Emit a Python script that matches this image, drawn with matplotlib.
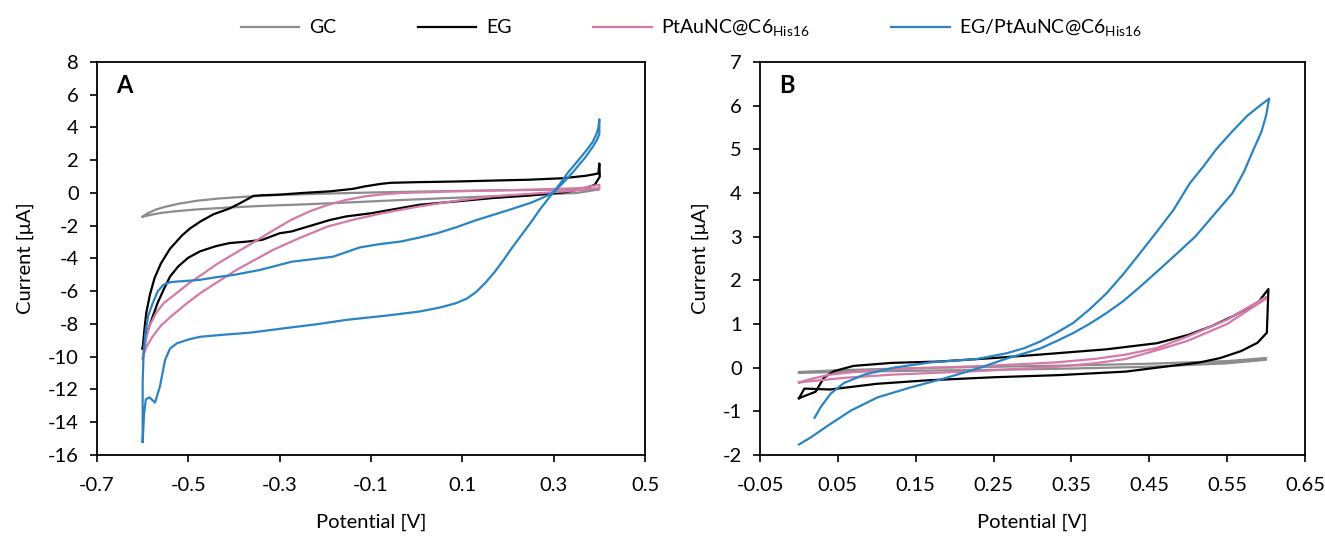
import numpy as np
import matplotlib
matplotlib.use("Agg")
import matplotlib.pyplot as plt

plt.rcParams['font.family'] = ['Lato', 'DejaVu Sans']
plt.rcParams['mathtext.fontset'] = 'custom'
plt.rcParams['mathtext.rm'] = 'Lato'
plt.rcParams['axes.unicode_minus'] = False
plt.rcParams['font.size'] = 14

# ---- panel A data (potential V, current uA), closed CV loops ----
gc_a_x = [-0.60, -0.59, -0.57, -0.55, -0.52, -0.48, -0.43, -0.37, -0.30, -0.20, -0.10, 0.00, 0.10, 0.20, 0.30, 0.40,
          0.40, 0.35, 0.25, 0.15, 0.05, -0.05, -0.15, -0.25, -0.34, -0.42, -0.48, -0.53, -0.56, -0.58, -0.60]
gc_a_y = [-1.45, -1.25, -1.00, -0.84, -0.65, -0.47, -0.33, -0.22, -0.12, -0.04, 0.03, 0.08, 0.13, 0.17, 0.20, 0.25,
          0.22, 0.00, -0.12, -0.22, -0.33, -0.45, -0.58, -0.70, -0.79, -0.90, -1.00, -1.12, -1.22, -1.32, -1.45]

eg_a_x = [-0.600, -0.596, -0.592, -0.584, -0.574, -0.560, -0.540, -0.514, -0.496, -0.474, -0.445, -0.410, -0.387,
          -0.372, -0.358, -0.340, -0.300, -0.250, -0.190, -0.140, -0.114, -0.080, -0.058, 0.000, 0.086, 0.170, 0.246,
          0.320, 0.370, 0.390, 0.398, 0.400, 0.401, 0.390, 0.370, 0.326, 0.250, 0.166, 0.100, 0.006, -0.100, -0.154,
          -0.190, -0.274, -0.300, -0.338, -0.372, -0.410, -0.440, -0.474, -0.500, -0.522, -0.540, -0.554, -0.567,
          -0.578, -0.590, -0.598, -0.600]
eg_a_y = [-9.50, -8.30, -7.30, -6.20, -5.20, -4.30, -3.40, -2.60, -2.16, -1.75, -1.30, -0.95, -0.63,
          -0.40, -0.18, -0.14, -0.10, 0.00, 0.10, 0.25, 0.40, 0.55, 0.62, 0.66, 0.70, 0.76, 0.81,
          0.90, 1.05, 1.15, 1.20, 1.80, 1.00, 0.50, 0.30, 0.05, -0.15, -0.31, -0.48, -0.72, -1.24, -1.43,
          -1.65, -2.35, -2.46, -2.86, -2.97, -3.06, -3.25, -3.56, -3.95, -4.48, -5.10, -5.90, -6.70,
          -7.54, -8.50, -9.17, -9.50]

pt_a_x = [-0.600, -0.593, -0.586, -0.570, -0.554, -0.525, -0.498, -0.466, -0.434, -0.394, -0.354, -0.314, -0.274,
          -0.234, -0.194, -0.154, -0.114, -0.074, -0.034, 0.086, 0.246, 0.360, 0.400, 0.400, 0.326, 0.166, 0.086,
          0.006, -0.074, -0.134, -0.194, -0.254, -0.314, -0.354, -0.394, -0.434, -0.474, -0.506, -0.538,
          -0.560, -0.578, -0.592, -0.600]
pt_a_y = [-10.10, -9.00, -8.15, -7.30, -6.73, -6.10, -5.50, -4.90, -4.28, -3.62, -2.96, -2.28, -1.63,
          -1.12, -0.72, -0.42, -0.21, -0.08, 0.00, 0.10, 0.20, 0.30, 0.50, 0.30, 0.10, -0.21, -0.48,
          -0.82, -1.23, -1.60, -2.04, -2.72, -3.47, -4.08, -4.69, -5.40, -6.12, -6.80, -7.54,
          -8.10, -8.76, -9.40, -10.10]

egpt_a_x = [-0.600, -0.597, -0.593, -0.585, -0.573, -0.562, -0.551, -0.540, -0.525, -0.500, -0.474, -0.420,
            -0.365, -0.292, -0.220, -0.154, -0.070, 0.006, 0.050, 0.086, 0.110, 0.130, 0.150, 0.170, 0.190,
            0.210, 0.230, 0.250, 0.270, 0.298, 0.315, 0.330, 0.345, 0.360, 0.373, 0.385, 0.393, 0.398, 0.400,
            0.400, 0.395, 0.385, 0.370, 0.355, 0.340, 0.320, 0.298, 0.275, 0.250, 0.206, 0.166, 0.126, 0.086,
            0.046, 0.006, -0.034, -0.080, -0.124, -0.183, -0.230, -0.274, -0.343, -0.400, -0.440, -0.474,
            -0.500, -0.525, -0.540, -0.554, -0.567, -0.578, -0.588, -0.594, -0.598, -0.600, -0.600]
egpt_a_y = [-15.20, -13.50, -12.60, -12.48, -12.80, -11.80, -10.20, -9.50, -9.18, -8.95, -8.78, -8.65,
            -8.53, -8.27, -8.02, -7.75, -7.50, -7.24, -7.00, -6.73, -6.45, -6.05, -5.50, -4.85, -4.10,
            -3.30, -2.55, -1.80, -1.00, 0.00, 0.60, 1.20, 1.70, 2.20, 2.65, 3.10, 3.55, 4.00, 4.50,
            3.60, 3.25, 2.80, 2.20, 1.70, 1.20, 0.60, 0.00, -0.30, -0.60, -1.00, -1.35, -1.70, -2.10,
            -2.45, -2.72, -2.96, -3.12, -3.32, -3.89, -4.05, -4.20, -4.70, -5.00, -5.15, -5.30,
            -5.36, -5.41, -5.45, -5.60, -6.00, -6.73, -7.50, -8.56, -9.80, -11.60, -15.20]

# ---- panel B data ----
gc_b_x = [0.00, 0.05, 0.15, 0.25, 0.35, 0.45, 0.55, 0.60, 0.60, 0.55, 0.45, 0.35, 0.25, 0.15, 0.05, 0.00]
gc_b_y = [-0.10, -0.06, -0.01, 0.02, 0.05, 0.09, 0.15, 0.22, 0.18, 0.10, 0.02, -0.02, -0.05, -0.07, -0.10, -0.12]

eg_b_x = [0.000, 0.0215, 0.032, 0.045, 0.070, 0.120, 0.180, 0.250, 0.310, 0.395, 0.460, 0.500, 0.530, 0.560,
          0.590, 0.603, 0.601, 0.589, 0.568, 0.541, 0.515, 0.460, 0.420, 0.335, 0.250, 0.165, 0.100, 0.040,
          0.007, 0.000]
eg_b_y = [-0.70, -0.55, -0.23, -0.08, 0.04, 0.11, 0.14, 0.22, 0.30, 0.42, 0.56, 0.75, 0.95, 1.20,
          1.50, 1.80, 0.80, 0.57, 0.38, 0.22, 0.12, 0.00, -0.09, -0.17, -0.22, -0.29, -0.37, -0.50,
          -0.48, -0.70]

pt_b_x = [0.000, 0.015, 0.040, 0.080, 0.140, 0.240, 0.330, 0.380, 0.420, 0.460, 0.500, 0.550, 0.600,
          0.600, 0.550, 0.500, 0.460, 0.420, 0.380, 0.330, 0.240, 0.120, 0.060, 0.015, 0.000]
pt_b_y = [-0.34, -0.26, -0.16, -0.08, -0.02, 0.04, 0.12, 0.20, 0.30, 0.45, 0.72, 1.10, 1.62,
          1.58, 1.00, 0.62, 0.40, 0.20, 0.10, 0.02, -0.07, -0.16, -0.23, -0.31, -0.34]

egpt_b_x = [0.020, 0.028, 0.041, 0.058, 0.084, 0.122, 0.169, 0.229, 0.267, 0.290, 0.310, 0.330, 0.352, 0.373,
            0.395, 0.417, 0.438, 0.460, 0.481, 0.502, 0.520, 0.536, 0.556, 0.576, 0.592, 0.604,
            0.600, 0.594, 0.584, 0.572, 0.557, 0.533, 0.509, 0.481, 0.460, 0.438, 0.417, 0.395, 0.373, 0.352,
            0.330, 0.310, 0.288, 0.267, 0.233, 0.186, 0.144, 0.101, 0.067, 0.037, 0.015, 0.000]
egpt_b_y = [-1.15, -0.90, -0.59, -0.35, -0.16, 0.00, 0.12, 0.20, 0.33, 0.45, 0.60, 0.79, 1.02, 1.33,
            1.70, 2.15, 2.62, 3.12, 3.61, 4.22, 4.62, 5.00, 5.40, 5.77, 6.00, 6.16,
            5.77, 5.40, 5.00, 4.50, 4.00, 3.50, 3.00, 2.54, 2.20, 1.85, 1.53, 1.25, 1.00, 0.79,
            0.60, 0.44, 0.32, 0.21, 0.00, -0.25, -0.45, -0.68, -0.98, -1.33, -1.60, -1.76]

labels = ['GC', 'EG', r'PtAuNC@C6$_{\mathrm{His16}}$', r'EG/PtAuNC@C6$_{\mathrm{His16}}$']
colors = ['#8c8c8c', '#000000', '#d47aa8', '#2a84c4']

xticks_a = [-0.7, -0.5, -0.3, -0.1, 0.1, 0.3, 0.5]
yticks_a = [-16, -14, -12, -10, -8, -6, -4, -2, 0, 2, 4, 6, 8]
xticks_b = [-0.05, 0.05, 0.15, 0.25, 0.35, 0.45, 0.55, 0.65]
yticks_b = [-2, -1, 0, 1, 2, 3, 4, 5, 6, 7]

fig = plt.figure(figsize=(13.25, 5.38), dpi=100)
ax_a = fig.add_axes([0.0732, 0.1543, 0.4136, 0.7305])
ax_b = fig.add_axes([0.5736, 0.1543, 0.4113, 0.7305])

series_a = [(gc_a_x, gc_a_y), (eg_a_x, eg_a_y), (pt_a_x, pt_a_y), (egpt_a_x, egpt_a_y)]
series_b = [(gc_b_x, gc_b_y), (eg_b_x, eg_b_y), (pt_b_x, pt_b_y), (egpt_b_x, egpt_b_y)]

handles = []
for (x, y), c, lab in zip(series_a, colors, labels):
    h, = ax_a.plot(x, y, color=c, lw=1.6, label=lab, solid_joinstyle='round')
    handles.append(h)
for (x, y), c in zip(series_b, colors):
    ax_b.plot(x, y, color=c, lw=1.6, solid_joinstyle='round')

for ax, xt, yt, letter in [(ax_a, xticks_a, yticks_a, 'A'), (ax_b, xticks_b, yticks_b, 'B')]:
    ax.set_xlim(xt[0], xt[-1])
    ax.set_ylim(yt[0], yt[-1])
    ax.set_xticks(xt)
    ax.set_xticklabels([f'{v:g}' for v in xt])
    ax.set_yticks(yt)
    ax.tick_params(direction='out', length=5, width=1.2, labelsize=14.5)
    ax.tick_params(axis='x', pad=11)
    ax.tick_params(axis='y', pad=8)
    for s in ax.spines.values():
        s.set_linewidth(1.3)
    ax.set_xlabel('Potential [V]', fontsize=14.5, labelpad=14)
    ax.set_ylabel('Current [μA]', fontsize=14.5, labelpad=10)
    ax.text(0.035, 0.94, letter, transform=ax.transAxes, fontsize=17, fontweight='bold',
            va='center', ha='left')

fig.legend(handles, labels, loc='upper center', bbox_to_anchor=(0.522, 1.0), ncol=4, frameon=False,
           fontsize=14, handlelength=3.0, columnspacing=4.2, handletextpad=0.5)

fig.savefig('out.png', dpi=100)
